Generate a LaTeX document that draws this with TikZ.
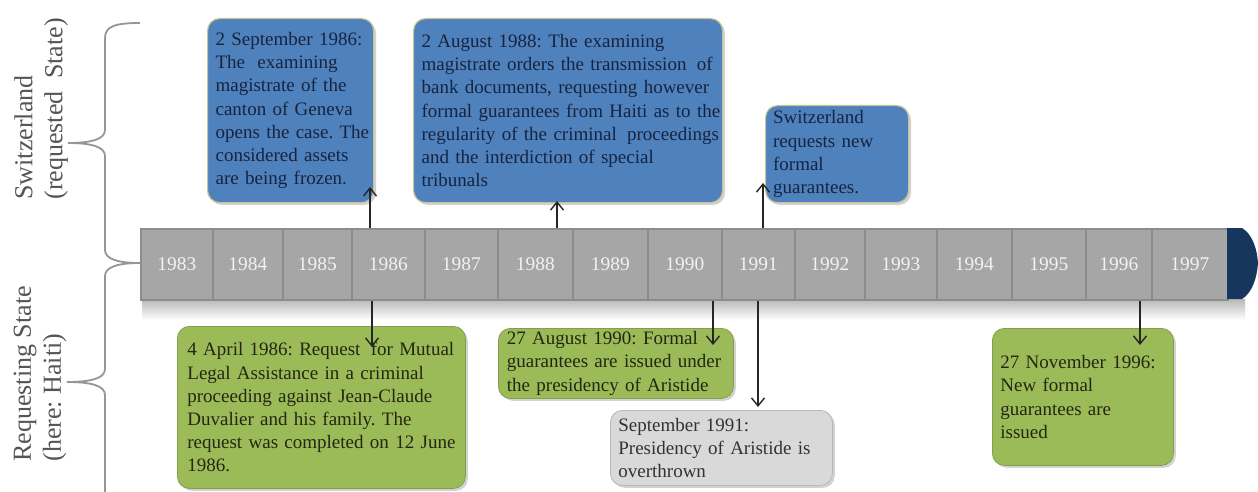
\documentclass[tikz,border=0pt]{standalone}
\usepackage{fontspec}
\setmainfont{Liberation Serif}
\usetikzlibrary{arrows.meta,shadows}
\definecolor{boxblue}{RGB}{79,129,189}
\definecolor{boxgreen}{RGB}{155,187,89}
\definecolor{boxgray}{RGB}{217,217,217}
\definecolor{cellgray}{RGB}{166,166,166}
\definecolor{celledge}{RGB}{140,140,140}
\definecolor{capnavy}{RGB}{23,54,93}
\definecolor{bluetext}{RGB}{22,36,64}
\definecolor{greentext}{RGB}{36,38,18}
\definecolor{graytext}{RGB}{50,50,50}
\definecolor{bracegray}{RGB}{150,150,150}
\definecolor{labelgray}{RGB}{85,85,85}
\definecolor{glow}{RGB}{196,196,150}
\newcommand\bl[1]{\mbox{#1}}
\frenchspacing
\tikzset{
  cellbox/.style={draw=celledge, line width=0.8pt, fill=cellgray, anchor=north west,
    minimum height=35.5pt, inner sep=0pt, text=white!95!black,
    font=\fontsize{9.7}{11}\selectfont},
  evbox/.style={rounded corners=6pt, anchor=north west, inner xsep=4pt, inner ysep=0pt,
    align=left, font=\fontsize{9.5}{11.6}\selectfont,
    drop shadow={opacity=0.35, shadow xshift=1.2pt, shadow yshift=-1.2pt}},
  bluebox/.style={evbox, fill=boxblue, draw=glow, line width=0.6pt, text=bluetext},
  greenbox/.style={evbox, fill=boxgreen, draw=boxgreen!85!black, line width=0.4pt, text=greentext},
  graybox/.style={evbox, fill=boxgray, draw=boxgray!85!black, line width=0.4pt, text=graytext},
  conn/.style={draw=black!85, line width=0.7pt, -{Straight Barb[length=4pt,width=6.5pt]}},
  brace/.style={draw=bracegray, line width=0.9pt},
  sidelabel/.style={rotate=90, anchor=west, align=left, inner sep=0pt, text=labelgray,
    font=\fontsize{13}{15}\selectfont},
}
\begin{document}
\begin{tikzpicture}[x=0.5pt,y=-0.5pt]
\useasboundingbox[fill=white] (0,0) rectangle (1258,492);

% bar shadow
\shade[top color=black!28, bottom color=white] (142,299) rectangle (1245,320);

% timeline cells
\foreach \a/\b/\yr in {140/212/1983,212/282/1984,282/351/1985,351/424/1986,424/497/1987,
  497/572/1988,572/647/1989,647/721/1990,721/794/1991,794/864/1992,864/936/1993,
  936/1011/1994,1011/1085/1995,1085/1151/1996,1151/1227/1997}{
  \pgfmathsetmacro\w{(\b-\a)/2}
  \node[cellbox, minimum width=\w pt] (c\yr) at (\a,228) {\yr};
}
% end cap
\fill[capnavy] (1227,228) -- (1242,228) .. controls (1252,234) and (1257,248) .. (1258,263)
  .. controls (1257,278) and (1252,293) .. (1242,299) -- (1227,299) -- cycle;

% braces
\draw[brace] (140,23) .. controls (116,23) and (105,26) .. (105,38) -- (105,130)
  .. controls (105,139) and (92,143) .. (68,143) .. controls (92,143) and (105,147) .. (105,156)
  -- (105,250) .. controls (105,259) and (118,263) .. (140,263);
\draw[brace] (140,263) .. controls (118,263) and (105,267) .. (105,276) -- (105,369)
  .. controls (105,378) and (92,382) .. (67,382) .. controls (92,382) and (105,386) .. (105,395)
  -- (105,492);

% side labels
\node[sidelabel] (swiss) at (41,200) {Switzerland\\(requested\hspace{3pt} State)};
\node[sidelabel] (haiti) at (40,462) {Requesting State\\(here: Haiti)};

% Swiss events
\node[bluebox, minimum width=83pt, minimum height=92pt, text width=75pt] (b1) at (207,18)
  {\bl{2 September 1986:}\\\bl{The\hspace{3pt} examining}\\\bl{magistrate of the}\\\bl{canton of Geneva}\\\bl{opens the case. The}\\\bl{considered assets}\\\bl{are being frozen.}};
\node[bluebox, minimum width=154.5pt, minimum height=92pt, text width=146.5pt] (b2) at (413,18)
  {\bl{2 August 1988: The examining}\\\bl{magistrate orders the transmission\hspace{2pt} of}\\\bl{bank documents, requesting however}\\\bl{formal guarantees from Haiti as to the}\\\bl{regularity of the criminal\hspace{2pt} proceedings}\\\bl{and the interdiction of special}\\\bl{tribunals}};
\node[bluebox, minimum width=71.5pt, minimum height=48.5pt, text width=64pt, inner xsep=3.5pt] (b3) at (765,105)
  {\bl{Switzerland}\\\bl{requests new}\\\bl{formal}\\\bl{guarantees.}};

% Requesting State events
\node[greenbox, minimum width=144pt, minimum height=81pt, text width=134pt, inner xsep=5pt] (g1) at (177,326)
  {\bl{4 April 1986: Request\hspace{2pt} for Mutual}\\\bl{Legal Assistance in a criminal}\\\bl{proceeding against Jean-Claude}\\\bl{Duvalier and his family. The}\\\bl{request was completed on 12 June}\\\bl{1986.}};
\node[greenbox, minimum width=117.5pt, minimum height=35pt, text width=109pt] (g2) at (498,328)
  {\bl{27 August 1990: Formal}\\\bl{guarantees are issued under}\\\bl{the presidency of Aristide}};
\node[graybox, minimum width=111pt, minimum height=37.5pt, text width=103pt] (s1) at (610,410)
  {\bl{September 1991:}\\\bl{Presidency of Aristide is}\\\bl{overthrown}};
\node[greenbox, minimum width=90.5pt, minimum height=68.5pt, text width=82.5pt] (g3) at (992,328)
  {\bl{27 November 1996:}\\\bl{New formal}\\\bl{guarantees are}\\\bl{issued}};

% arrow end points
\coordinate (t1) at (370,187);
\coordinate (t2) at (557,201);
\coordinate (t3) at (763,183);
\coordinate (t4) at (372,347);
\coordinate (t5) at (713,345);
\coordinate (t6) at (758,407);
\coordinate (t7) at (1140,345);

% connectors
\draw[conn] (c1986.north -| t1) -- (t1);
\draw[conn] (c1988.north -| t2) -- (t2);
\draw[conn] (c1991.north -| t3) -- (t3);
\draw[conn] (c1986.south -| t4) -- (t4);
\draw[conn] (c1990.south -| t5) -- (t5);
\draw[conn] (c1991.south -| t6) -- (t6);
\draw[conn] (c1996.south -| t7) -- (t7);
\end{tikzpicture}
\end{document}
